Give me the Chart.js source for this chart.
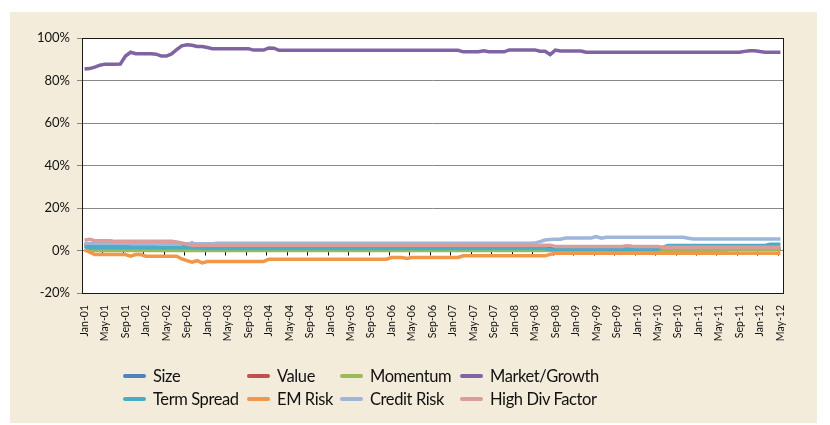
<!DOCTYPE html>
<html><head><meta charset="utf-8">
<script src="https://cdn.jsdelivr.net/npm/chart.js@4.4.1/dist/chart.umd.min.js"></script>
<style>
html,body{margin:0;padding:0;background:#fff;}
#frame{position:absolute;left:10px;top:12px;width:807px;height:411px;background:#F3ECDB;}
#c{position:absolute;left:0;top:0;}
#legend{position:absolute;left:0;top:0;width:830px;height:425px;font-family:Lato,sans-serif;font-size:16.5px;letter-spacing:-0.4px;color:#111;}
.item{position:absolute;display:flex;align-items:center;white-space:nowrap;height:20px;}
.sw{width:23px;height:4px;border-radius:2px;margin-right:7px;}
</style></head>
<body>
<div id="frame"></div>
<canvas id="c" width="830" height="425"></canvas>
<div id="legend"></div>
<script>
// ---- categories ----
const monthNames = ['Jan','Feb','Mar','Apr','May','Jun','Jul','Aug','Sep','Oct','Nov','Dec'];
const years = ['01','02','03','04','05','06','07','08','09','10','11','12'];
const lastMonthCount = 5; // 2012 runs Jan..May
const categories = [];
years.forEach((y, yi) => {
  const n = yi === years.length - 1 ? lastMonthCount : 12;
  for (let m = 0; m < n; m++) categories.push(monthNames[m] + '-' + y);
});

// ---- series (percent) ----
const size = [
 2.0,1.8,1.8,1.8,1.8,1.8,2.0,2.4,2.2,1.5,1.5,1.5,
 1.5,1.5,1.5,1.2,1.2,1.2,1.2,1.2,1.2,1.2,1.2,1.2,
 1.2,1.0,1.0,1.0,1.0,1.0,1.0,1.0,1.0,1.0,1.0,1.0,
 1.0,1.0,1.0,1.0,1.0,1.0,1.0,1.0,1.0,1.0,1.0,1.0,
 1.0,1.0,1.0,1.0,1.0,1.0,1.0,1.0,1.0,1.0,1.0,1.0,
 1.0,1.0,1.0,1.0,1.0,1.0,1.0,1.0,1.0,1.0,1.0,1.0,
 1.0,1.0,1.0,1.0,1.0,1.0,1.0,1.0,1.0,1.0,1.0,1.0,
 1.0,1.0,1.0,1.0,1.0,1.0,1.0,1.0,0.6,0.6,0.6,0.6,
 0.6,0.6,0.6,0.6,0.6,0.6,0.6,0.6,0.6,0.6,0.6,0.6,
 0.6,0.6,0.6,0.6,0.6,0.6,0.6,0.6,0.6,0.6,0.6,0.6,
 0.6,0.6,0.6,0.6,0.6,0.6,0.6,0.6,0.6,0.6,0.6,0.6,
 0.6,0.6,0.6,0.6,0.6
];
const value = [
 3.3,2.2,1.5,1.5,1.5,1.5,1.5,1.5,1.5,1.5,1.5,1.5,
 1.5,1.5,1.5,1.5,1.5,1.5,1.5,1.5,2.8,3.5,2.6,1.2,
 1.2,1.2,1.2,1.2,1.2,1.2,1.2,1.2,1.2,1.2,1.2,1.2,
 1.2,1.2,1.2,1.2,1.2,1.2,1.2,1.2,1.2,1.2,1.2,1.2,
 1.2,1.2,1.2,1.2,1.2,1.2,1.2,1.2,1.2,1.2,1.2,1.2,
 1.2,1.2,1.2,1.2,1.2,1.2,1.2,1.2,1.2,1.2,1.2,1.2,
 1.2,1.2,1.2,1.2,1.2,1.2,1.2,1.2,1.2,1.2,1.2,1.2,
 1.2,1.2,1.2,1.2,1.2,1.2,1.2,1.2,0.8,0.8,0.8,0.8,
 0.8,0.8,0.8,0.8,0.8,0.8,0.8,0.8,0.8,0.8,0.8,0.8,
 0.8,0.8,0.8,0.8,0.8,0.8,0.8,0.8,0.8,0.8,0.8,0.8,
 0.8,0.8,0.8,0.8,0.8,0.8,0.8,0.8,0.8,0.8,0.8,0.8,
 0.8,0.8,0.8,0.8,0.8
];
const momentum = [
 0.0,0.0,0.0,0.0,0.0,0.0,0.0,0.0,0.0,0.0,0.0,0.0,
 0.0,0.0,0.0,0.0,0.0,0.0,0.0,0.0,0.0,0.0,0.0,0.0,
 0.0,0.0,0.0,0.0,0.0,0.0,0.0,0.0,0.0,0.0,0.0,0.0,
 0.0,0.0,0.0,0.0,0.0,0.0,0.0,0.0,0.0,0.0,0.0,0.0,
 0.0,0.0,0.0,0.0,0.0,0.0,0.0,0.0,0.0,0.0,0.0,0.0,
 0.0,0.0,0.0,0.0,0.0,0.0,0.0,0.0,0.0,0.0,0.0,0.0,
 0.0,0.0,0.0,0.0,0.0,0.0,0.0,0.0,0.0,0.0,0.0,0.0,
 0.0,0.0,0.0,0.0,0.0,0.0,0.0,0.0,0.0,0.0,0.0,0.0,
 0.0,0.0,0.0,0.0,0.0,0.0,0.0,0.0,0.0,0.0,0.0,0.0,
 0.0,0.0,0.0,0.0,0.0,0.0,0.0,0.0,0.0,0.0,0.0,0.0,
 0.0,0.0,0.0,0.0,0.0,0.0,0.4,0.4,0.4,0.4,0.4,0.4,
 0.4,0.4,0.4,0.4,0.4
];
const marketGrowth = [
 85.4,85.6,86.3,87.2,87.7,87.7,87.7,87.8,91.5,93.3,92.6,92.6,
 92.6,92.6,92.4,91.5,91.5,92.5,94.5,96.3,96.8,96.6,96.0,96.0,
 95.5,95.0,95.0,95.0,95.0,95.0,95.0,95.0,95.0,94.3,94.3,94.3,
 95.3,95.2,94.2,94.2,94.2,94.2,94.2,94.2,94.2,94.2,94.2,94.2,
 94.2,94.2,94.2,94.2,94.2,94.2,94.2,94.2,94.2,94.2,94.2,94.2,
 94.2,94.2,94.2,94.2,94.2,94.2,94.2,94.2,94.2,94.2,94.2,94.2,
 94.2,94.2,93.5,93.5,93.5,93.5,94.0,93.5,93.5,93.5,93.5,94.4,
 94.4,94.4,94.4,94.4,94.4,93.8,93.8,92.2,94.3,93.9,93.9,93.9,
 93.9,93.9,93.3,93.3,93.3,93.3,93.3,93.3,93.3,93.3,93.3,93.3,
 93.3,93.3,93.3,93.3,93.3,93.3,93.3,93.3,93.3,93.3,93.3,93.3,
 93.3,93.3,93.3,93.3,93.3,93.3,93.3,93.3,93.3,93.7,94.0,94.0,
 93.6,93.3,93.3,93.3,93.3
];
const termSpread = [
 1.3,1.3,1.3,1.3,1.3,1.3,1.3,1.3,1.3,1.3,1.3,1.3,
 1.3,1.3,1.3,1.3,1.3,1.3,1.3,1.3,1.3,1.3,1.3,0.9,
 0.9,0.9,0.9,0.9,0.9,0.9,0.9,0.9,0.9,0.9,0.9,0.9,
 0.9,0.9,0.9,0.9,0.9,0.9,0.9,0.9,0.9,0.9,0.9,0.9,
 0.9,0.9,0.9,0.9,0.9,0.9,0.9,0.9,0.9,0.9,0.9,0.9,
 0.9,0.9,0.9,0.9,0.9,0.9,0.9,0.9,0.9,0.9,0.9,0.9,
 0.9,0.9,0.9,0.9,0.9,0.9,0.9,0.9,0.9,0.9,0.9,0.9,
 0.9,0.9,0.9,0.9,0.9,0.9,0.9,0.5,0.6,0.6,0.6,0.6,
 0.6,0.6,0.6,0.6,0.6,0.6,0.6,0.6,0.6,0.6,0.6,0.6,
 0.6,0.6,0.6,0.6,0.6,1.5,2.4,2.4,2.4,2.4,2.4,2.4,
 2.4,2.4,2.4,2.4,2.4,2.4,2.4,2.4,2.4,2.4,2.4,2.4,
 2.4,2.4,3.0,3.0,3.0
];
const emRisk = [
 0.5,-0.8,-1.9,-1.9,-1.9,-1.9,-1.9,-1.9,-1.9,-2.7,-1.9,-1.9,
 -2.7,-2.7,-2.7,-2.7,-2.7,-2.7,-2.7,-4.0,-4.8,-5.5,-4.8,-5.8,
 -5.2,-5.2,-5.2,-5.2,-5.2,-5.2,-5.2,-5.2,-5.2,-5.2,-5.2,-5.2,
 -4.1,-4.1,-4.1,-4.1,-4.1,-4.1,-4.1,-4.1,-4.1,-4.1,-4.1,-4.1,
 -4.1,-4.1,-4.1,-4.1,-4.1,-4.1,-4.1,-4.1,-4.1,-4.1,-4.1,-4.1,
 -3.3,-3.3,-3.3,-3.8,-3.3,-3.3,-3.3,-3.3,-3.3,-3.3,-3.3,-3.3,
 -3.3,-3.3,-2.5,-2.5,-2.5,-2.5,-2.5,-2.5,-2.5,-2.5,-2.5,-2.5,
 -2.5,-2.5,-2.5,-2.5,-2.5,-2.5,-2.5,-1.8,-1.3,-1.3,-1.3,-1.3,
 -1.3,-1.3,-1.3,-1.3,-1.3,-1.3,-1.3,-1.3,-1.3,-1.3,-1.3,-1.3,
 -1.3,-1.3,-1.3,-1.3,-1.3,-1.3,-1.3,-1.3,-1.3,-1.3,-1.3,-1.3,
 -1.3,-1.3,-1.3,-1.3,-1.3,-1.3,-1.3,-1.3,-1.3,-1.3,-1.3,-1.3,
 -1.3,-1.3,-1.3,-1.3,-1.3
];
const creditRisk = [
 3.2,3.2,3.2,3.2,3.2,3.2,3.2,3.2,3.2,3.2,3.2,3.2,
 3.2,3.2,3.2,3.2,3.2,3.2,3.2,3.2,3.2,3.2,3.2,3.2,
 3.2,3.2,3.4,3.4,3.4,3.4,3.4,3.4,3.4,3.4,3.4,3.4,
 3.4,3.4,3.4,3.4,3.4,3.4,3.4,3.4,3.4,3.4,3.4,3.4,
 3.4,3.4,3.4,3.4,3.4,3.4,3.4,3.4,3.4,3.4,3.4,3.4,
 3.4,3.4,3.4,3.4,3.4,3.4,3.4,3.4,3.4,3.4,3.4,3.4,
 3.4,3.4,3.4,3.4,3.4,3.4,3.4,3.4,3.4,3.4,3.4,3.4,
 3.4,3.4,3.4,3.4,3.5,4.2,4.9,5.2,5.3,5.3,5.9,5.9,
 5.9,5.9,5.9,5.9,6.6,5.8,6.2,6.2,6.2,6.2,6.2,6.2,
 6.2,6.2,6.2,6.2,6.2,6.2,6.2,6.2,6.2,6.2,5.8,5.4,
 5.4,5.4,5.4,5.4,5.4,5.4,5.4,5.4,5.4,5.4,5.4,5.4,
 5.4,5.4,5.4,5.4,5.4
];
const highDiv = [
 4.8,5.3,4.6,4.6,4.6,4.6,4.3,4.3,4.3,4.3,4.3,4.3,
 4.3,4.3,4.3,4.3,4.3,4.3,4.0,3.5,3.0,2.5,2.5,2.5,
 2.5,2.5,2.5,2.5,2.5,2.5,2.5,2.5,2.5,2.5,2.5,2.5,
 2.5,2.5,2.5,2.5,2.5,2.5,2.5,2.5,2.5,2.5,2.5,2.5,
 2.5,2.5,2.5,2.5,2.5,2.5,2.5,2.5,2.5,2.5,2.5,2.5,
 2.5,2.5,2.5,2.5,2.5,2.5,2.5,2.5,2.5,2.5,2.5,2.5,
 2.5,2.5,2.5,2.5,2.5,2.5,2.5,2.5,2.5,2.5,2.5,2.5,
 2.5,2.5,2.5,2.5,2.5,2.5,2.5,2.5,1.9,1.9,1.9,1.9,
 1.9,1.9,1.9,1.9,1.9,1.9,1.9,1.9,1.9,1.9,2.2,2.0,
 1.9,1.9,1.9,1.9,1.9,1.5,1.5,1.5,1.5,1.5,1.5,1.5,
 1.5,1.5,1.5,1.5,1.5,1.5,1.5,1.5,1.5,1.5,1.5,1.5,
 1.5,1.5,1.5,1.5,1.5
];

const seriesNames = ['Size','Value','Momentum','Market/Growth','Term Spread','EM Risk','Credit Risk','High Div Factor'];
const seriesData = [size, value, momentum, marketGrowth, termSpread, emRisk, creditRisk, highDiv];
const colors = ['#4F81BD','#C0504D','#9BBB59','#8064A2','#4BACC6','#F0974A','#9DB6DA','#DB9C9A'];

const yMin = -20, yMax = 100, yStep = 20;

const framePlugin = {
  id: 'framePlugin',
  beforeDraw(c) {
    const a = c.chartArea, g = c.ctx;
    g.save(); g.fillStyle = '#fff';
    g.fillRect(a.left, a.top, a.right - a.left, a.bottom - a.top);
    g.restore();
  },
  beforeDatasetsDraw(c) {
    const xs = c.scales.x, ys = c.scales.y, g = c.ctx;
    const y0 = Math.round(ys.getPixelForValue(0)) + 0.5;
    const half = (xs.getPixelForValue(1) - xs.getPixelForValue(0)) / 2;
    g.save(); g.strokeStyle = '#000'; g.lineWidth = 1; g.beginPath();
    for (let i = 0; i < categories.length; i += 4) {
      const x = Math.round(xs.getPixelForValue(i) - half) + 0.5;
      g.moveTo(x, y0); g.lineTo(x, y0 + 4);
    }
    g.stroke(); g.restore();
  },
  afterDraw(c) {
    const a = c.chartArea, g = c.ctx;
    g.save(); g.strokeStyle = '#1a1a1a'; g.lineWidth = 1;
    g.strokeRect(Math.round(a.left) + 0.5, Math.round(a.top) + 0.5,
                 Math.round(a.right - a.left), Math.round(a.bottom - a.top));
    g.restore();
  }
};

const chart = new Chart(document.getElementById('c'), {
  type: 'line',
  data: {
    labels: categories,
    datasets: seriesNames.map((n, i) => ({
      label: n, data: seriesData[i], borderColor: colors[i], backgroundColor: colors[i],
      borderWidth: 3.5, pointRadius: 0, tension: 0, fill: false, order: seriesNames.length - i
    }))
  },
  options: {
    responsive: false, animation: false, devicePixelRatio: 1,
    layout: { padding: { left: 0, right: 47, top: 38, bottom: 0 } },
    plugins: { legend: { display: false }, tooltip: { enabled: false } },
    scales: {
      x: {
        type: 'category', offset: true,
        grid: { display: false, drawTicks: false }, border: { display: false },
        ticks: {
          autoSkip: false, maxRotation: 90, minRotation: 90, padding: 12,
          font: { family: 'Lato', size: 10.5 }, color: '#111',
          callback: (v, i) => (i % 4 === 0 ? categories[i] : '')
        },
        afterFit: s => { s.height = 132; }
      },
      y: {
        min: yMin, max: yMax,
        ticks: { stepSize: yStep, callback: v => v + '%', padding: 7, font: { family: 'Lato', size: 13 }, color: '#111' },
        grid: { color: '#878787', lineWidth: 1, tickLength: 5, tickColor: '#878787' },
        border: { display: false },
        afterFit: s => { s.width = 82; }
      }
    }
  },
  plugins: [framePlugin]
});

// HTML legend aligned in columns like the original
const legendCols = [123, 247, 340, 460];
const legendRows = [376, 399];
const leg = document.getElementById('legend');
chart.data.datasets.forEach((ds, i) => {
  const d = document.createElement('div');
  d.className = 'item';
  d.style.left = legendCols[i % 4] + 'px';
  d.style.top = (legendRows[Math.floor(i / 4)] - 10) + 'px';
  const sw = document.createElement('span'); sw.className = 'sw'; sw.style.background = ds.borderColor;
  const t = document.createElement('span'); t.textContent = ds.label;
  d.appendChild(sw); d.appendChild(t); leg.appendChild(d);
});
</script>
</body></html>
